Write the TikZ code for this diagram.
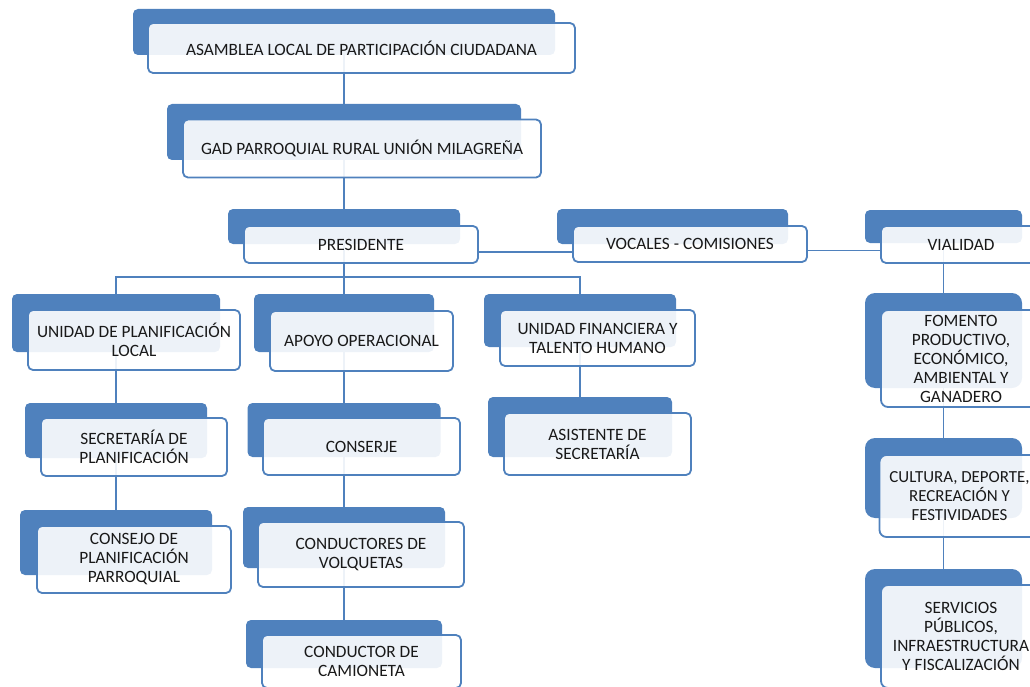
\documentclass[tikz,border=0pt]{standalone}
\usepackage{fontspec}
\setmainfont{Carlito}
\usetikzlibrary{calc}
\definecolor{obBlue}{HTML}{4F81BD}
\pgfdeclarelayer{bg}
\pgfsetlayers{bg,main}
\tikzset{
  backbox/.style={fill=obBlue, draw=none, rounded corners=5pt, inner sep=0pt},
  frontbox/.style={fill=white, fill opacity=0.9, text opacity=1, draw=obBlue, line width=1.8pt,
    rounded corners=5pt, inner sep=0pt, align=center, text=black!90,
    font=\fontsize{17.3}{19}\selectfont},
  bigback/.style={backbox, rounded corners=10pt},
  bigfront/.style={frontbox, rounded corners=7pt},
  link/.style={draw=obBlue, line width=1.8pt},
  hlink/.style={draw=obBlue, line width=1.2pt},
}
\begin{document}
\begin{tikzpicture}[x=1pt,y=-1pt]
\useasboundingbox (0,0) rectangle (1030,687);
\clip (0,0) rectangle (1030,687);
% top chain
\node[backbox, minimum width=422pt, minimum height=46pt] (asmB) at (344,32) {};
\node[frontbox, minimum width=427pt, minimum height=50pt] (asm) at (361.5,48) {ASAMBLEA LOCAL DE PARTICIPACIÓN CIUDADANA};
\node[backbox, minimum width=354pt, minimum height=56pt] (gadB) at (344,132) {};
\node[frontbox, minimum width=358pt, minimum height=58pt] (gad) at (362,148.5) {GAD PARROQUIAL RURAL UNIÓN MILAGREÑA};
\node[backbox, minimum width=232pt, minimum height=35pt] (preB) at (344,226.5) {};
\node[frontbox, minimum width=234pt, minimum height=37pt] (pre) at (361,244.5) {PRESIDENTE};
\node[backbox, minimum width=231pt, minimum height=35pt] (vocB) at (672.5,226.5) {};
\node[frontbox, minimum width=234pt, minimum height=36pt] (voc) at (690,244) {VOCALES - COMISIONES};
% right column
\node[backbox, minimum width=157pt, minimum height=33pt] (viaB) at (943.5,226.5) {};
\node[frontbox, minimum width=160pt, minimum height=37pt] (via) at (961,244.5) {VIALIDAD};
\node[bigback, minimum width=157pt, minimum height=95pt] (fomB) at (943.5,340.5) {};
\node[bigfront, minimum width=160pt, minimum height=97pt] (fom) at (961,358.5) {FOMENTO\\PRODUCTIVO,\\ECONÓMICO,\\AMBIENTAL Y\\GANADERO};
\node[bigback, minimum width=157pt, minimum height=80pt] (culB) at (943.5,478) {};
\node[bigfront, minimum width=160pt, minimum height=82pt, font=\fontsize{16.9}{19}\selectfont] (cul) at (959.5,496) {CULTURA, DEPORTE,\\RECREACIÓN Y\\FESTIVIDADES};
\node[bigback, minimum width=157pt, minimum height=99pt] (serB) at (943.5,618.5) {};
\node[bigfront, minimum width=160pt, minimum height=103pt] (ser) at (961,636.5) {SERVICIOS\\PÚBLICOS,\\INFRAESTRUCTURA\\Y FISCALIZACIÓN};
% third row
\node[backbox, minimum width=208pt, minimum height=58pt] (uplB) at (116,323) {};
\node[frontbox, minimum width=212pt, minimum height=60pt] (upl) at (134,340) {UNIDAD DE PLANIFICACIÓN\\LOCAL};
\node[backbox, minimum width=180pt, minimum height=58pt] (apoB) at (344,323) {};
\node[frontbox, minimum width=183pt, minimum height=60pt] (apo) at (361.5,341) {APOYO OPERACIONAL};
\node[backbox, minimum width=192pt, minimum height=53pt] (ufiB) at (580,320.5) {};
\node[frontbox, minimum width=195pt, minimum height=56pt] (ufi) at (597.5,338) {UNIDAD FINANCIERA Y\\TALENTO HUMANO};
% fourth row
\node[backbox, minimum width=182pt, minimum height=55pt] (secB) at (116,430.5) {};
\node[frontbox, minimum width=186pt, minimum height=58pt] (sec) at (134,447) {SECRETARÍA DE\\PLANIFICACIÓN};
\node[backbox, minimum width=193pt, minimum height=54pt] (conB) at (344,430) {};
\node[frontbox, minimum width=197pt, minimum height=57pt] (con) at (361.5,446.5) {CONSERJE};
\node[backbox, minimum width=184pt, minimum height=60pt] (asiB) at (580,427) {};
\node[frontbox, minimum width=187pt, minimum height=62pt] (asi) at (597.5,444) {ASISTENTE DE\\SECRETARÍA};
% fifth row
\node[backbox, minimum width=192pt, minimum height=65pt] (cjoB) at (116,542.5) {};
\node[frontbox, minimum width=194pt, minimum height=67pt] (cjo) at (134,559.5) {CONSEJO DE\\PLANIFICACIÓN\\PARROQUIAL};
\node[backbox, minimum width=202pt, minimum height=61pt] (cvoB) at (344,537.5) {};
\node[frontbox, minimum width=206pt, minimum height=65pt] (cvo) at (361,554.5) {CONDUCTORES DE\\VOLQUETAS};
% sixth row
\node[backbox, minimum width=196pt, minimum height=48pt] (ccaB) at (344,644) {};
\node[frontbox, minimum width=199pt, minimum height=53pt] (cca) at (361.5,661.5) {CONDUCTOR DE\\CAMIONETA};
% connectors
\begin{pgfonlayer}{bg}
\coordinate (bus) at (344,277);
\draw[link] (asmB.center) -- (gadB.center);
\draw[link] (gadB.center) -- (preB.center);
\draw[link] (preB.center) -- (apoB.center);
\draw[link] (uplB.center) |- (bus) -| (ufiB.center);
\draw[link] (uplB.center) -- (secB.center) -- (cjoB.center);
\draw[link] (apoB.center) -- (conB.center) -- (cvoB.center) -- (ccaB.center);
\draw[link] (ufiB.center) -- (asiB.center);
\draw[link] (viaB.center) -- (fomB.center) -- (culB.center) -- (serB.center);
\coordinate (h1) at ([yshift=-7.5pt]pre.east);
\draw[hlink] (h1) -- (h1 -| voc.west);
\coordinate (h2) at ([yshift=-6.5pt]voc.east);
\draw[hlink] (h2) -- (h2 -| via.west);
\end{pgfonlayer}
\end{tikzpicture}
\end{document}
